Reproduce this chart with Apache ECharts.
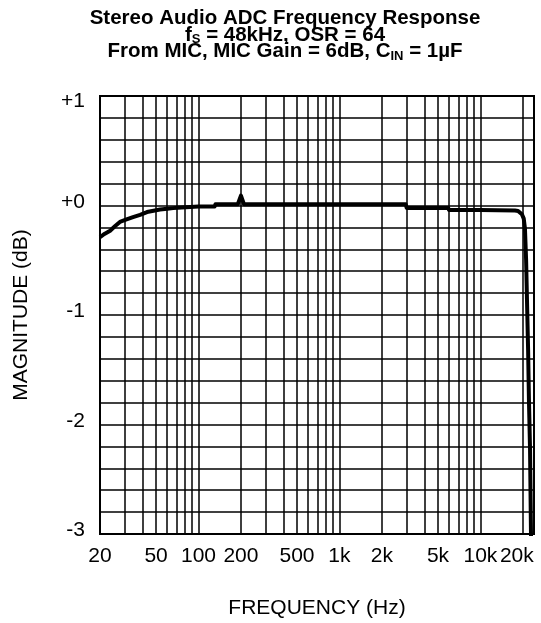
<!DOCTYPE html>
<html>
<head>
<meta charset="utf-8">
<script src="https://cdn.jsdelivr.net/npm/echarts@6/dist/echarts.min.js"></script>
<style>
  html, body { margin: 0; padding: 0; background: #fff; }
  #chart { width: 541px; height: 623px; }
</style>
</head>
<body>
<div id="chart"></div>
<script>
// frequency response (Hz, dB)
const freqHz = [20, 21.5, 23.6, 25.5, 27.7, 30.5, 34.3, 38.5, 43.1, 48, 53.3, 60, 66, 71, 72.5,
  100, 130, 132, 190, 200, 210, 1000, 2950, 3000, 5900, 6000, 10000,
  17600, 18500, 19100, 19700, 20300, 20700, 21100, 21400, 21800, 22100, 22500, 22850, 22950];
const magnitudeDb = [-0.29, -0.26, -0.23, -0.19, -0.15, -0.13, -0.106, -0.085, -0.06, -0.048, -0.037, -0.03, -0.024, -0.021, -0.01,
  -0.01, -0.01, 0.012, 0.012, 0.09, 0.012, 0.012, 0.012, -0.022, -0.022, -0.042, -0.042,
  -0.046, -0.05, -0.06, -0.08, -0.12, -0.21, -0.5, -0.86, -1.32, -1.78, -2.23, -3.0, -3.3];

const freqTicks = [20, 50, 100, 200, 500, 1000, 2000, 5000, 10000, 20000];
const freqGrid = [20, 30, 40, 50, 60, 70, 80, 90, 100, 200, 300, 400, 500, 600, 700, 800, 900,
  1000, 2000, 3000, 4000, 5000, 6000, 7000, 8000, 9000, 10000, 20000];
const dbTicks = [-3, -2, -1, 0, 1];
const dbLabels = ['-3', '-2', '-1', '+0', '+1'];

const FONT = 'Arial, "Liberation Sans", Helvetica, sans-serif';

const chart = echarts.init(document.getElementById('chart'));

const fmtHz = (v) => {
  v = Math.round(v);
  const s = v >= 1000 ? (v / 1000) + 'k' : String(v);
  return v === 20000 ? '{r|' + s + '}' : s;
};

const fmtDb = (v) => {
  const i = dbTicks.findIndex(t => Math.abs(t - v) < 1e-6);
  if (i < 0) return '';
  return dbTicks[i] === 1 ? '{dn|' + dbLabels[i] + '}' : '{up|' + dbLabels[i] + '}';
};

const labelRich = (pad) => ({ fontSize: 21, fontFamily: FONT, color: '#000', padding: pad });

const option = {
  animation: false,
  backgroundColor: '#fff',
  grid: { left: 100, right: 7, top: 96, bottom: 89, show: true, borderColor: '#000', borderWidth: 2 },
  xAxis: {
    type: 'log',
    logBase: 10,
    min: 20,
    max: 24000,
    axisLine: { show: false, onZero: false },
    splitLine: { show: false },
    minorTick: { show: false },
    minorSplitLine: { show: false },
    axisTick: {
      show: true, inside: true, length: 438, customValues: freqGrid,
      lineStyle: { color: '#000', width: 1.5 }
    },
    axisLabel: {
      customValues: freqTicks, formatter: fmtHz, margin: 12,
      color: '#000', fontSize: 21, fontFamily: FONT,
      rich: { r: labelRich([0, 12, 0, 0]) }
    }
  },
  yAxis: {
    type: 'value',
    min: -3,
    max: 1,
    interval: 0.2,
    axisLine: { show: false, onZero: false },
    axisTick: { show: false },
    splitLine: { show: true, lineStyle: { color: '#000', width: 1.5 } },
    axisLabel: {
      formatter: fmtDb, margin: 15,
      color: '#000', fontSize: 21, fontFamily: FONT,
      rich: { up: labelRich([0, 0, 7, 0]), dn: labelRich([10, 0, 0, 0]) }
    }
  },
  series: [{
    type: 'line',
    data: freqHz.map((f, i) => [f, magnitudeDb[i]]),
    symbol: 'none',
    clip: true,
    z: 5,
    lineStyle: { color: '#000', width: 4, join: 'round' }
  }],
  graphic: [
    {
      type: 'text', x: 285, y: 10.4, z: 10,
      style: {
        text: '{b|Stereo Audio ADC Frequency Response}\n' +
              '{b|f}{s|S}{b| = 48kHz, OSR = 64}\n' +
              '{b|From MIC, MIC Gain = 6dB, C}{s|IN}{b| = 1µF}',
        align: 'center', verticalAlign: 'top', fill: '#000',
        rich: {
          b: { fontSize: 20.5, fontWeight: 'bold', fontFamily: FONT, lineHeight: 16.3, fill: '#000' },
          s: { fontSize: 13, fontWeight: 'bold', fontFamily: FONT, lineHeight: 6, padding: [10, 0, 0, 0], fill: '#000' }
        }
      }
    },
    {
      type: 'text', x: 317, y: 608.5, z: 10,
      style: { text: 'FREQUENCY (Hz)', align: 'center', verticalAlign: 'middle', fontSize: 21, fontFamily: FONT, fill: '#000' }
    },
    {
      type: 'text', x: 21, y: 315, rotation: Math.PI / 2, z: 10,
      style: { text: 'MAGNITUDE (dB)', align: 'center', verticalAlign: 'middle', fontSize: 21, fontFamily: FONT, fill: '#000' }
    }
  ]
};

chart.setOption(option);
</script>
</body>
</html>
